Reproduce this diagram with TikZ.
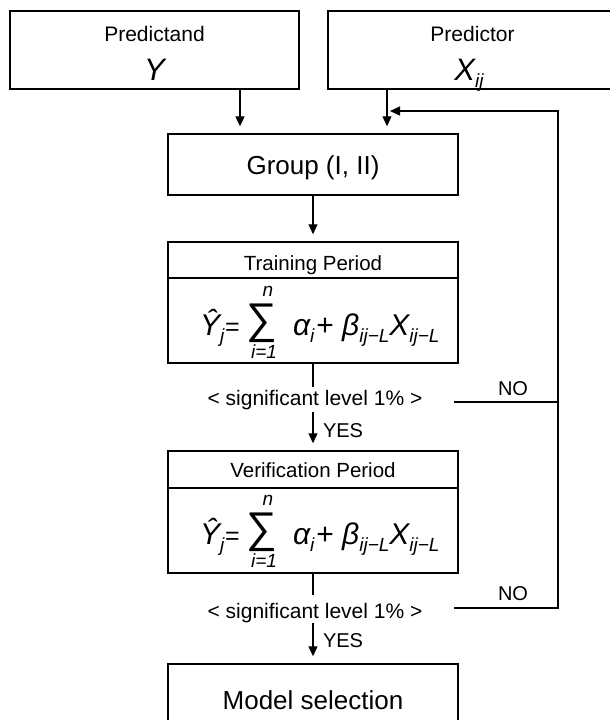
\documentclass[tikz,border=0pt]{standalone}
\usepackage{fontspec}
\setmainfont{Liberation Sans}
\usetikzlibrary{arrows.meta}
\newcommand{\fsz}[1]{\fontsize{#1}{#1}\selectfont}
\newcommand{\mysub}[1]{\raisebox{-0.24em}{\fsz{19}#1}}
\newcommand{\myformula}[2]{%
  \node[txt, anchor=base west, font=\fsz{30}\itshape] (#1lhs) at (200,#2) {Ŷ\mysub{j}\kern1pt\upshape\fsz{25}=};
  \node[txt, font=\fsz{43}] (#1sum) at (262,#2-12) {∑};
  \node[txt, anchor=base, font=\fsz{19}\itshape] (#1n) at (268,#2-39) {n};
  \node[txt, anchor=base, font=\fsz{19}\itshape] (#1i) at (264,#2+23) {i=1};
  \node[txt, anchor=base west, font=\fsz{30}\itshape] (#1rhs) at (293,#2) {α\mysub{i}\kern2pt\upshape+ \itshape β\mysub{ij−L}X\mysub{ij−L}};
}
\tikzset{
  box/.style={draw, line width=1.5pt, minimum width=290pt, inner sep=0pt},
  txt/.style={inner sep=0pt, outer sep=0pt},
  conn/.style={line width=1.3pt},
  arr/.style={line width=1.3pt, -{Triangle[length=10pt,width=9pt]}},
}
\begin{document}
\begin{tikzpicture}[x=1pt, y=-1pt]
\useasboundingbox (0,0) rectangle (610,720);
\clip (0,0) rectangle (610,720);
% top boxes
\node[box, minimum width=289pt, minimum height=78pt] (pd) at (154.5,50) {};
\node[txt, anchor=base, font=\fsz{21}] (pdt) at (154.5,41) {Predictand};
\node[txt, anchor=base, font=\fsz{31}\itshape] (pdy) at (154.5,80) {Y};
\node[box, minimum width=289pt, minimum height=78pt] (pr) at (472.5,50) {};
\node[txt, anchor=base, font=\fsz{21}] (prt) at (472.5,41) {Predictor};
\node[txt, anchor=base, font=\fsz{31}\itshape] (prx) at (469,80) {X\mysub{ij}};
% group
\node[box, minimum height=61pt] (grp) at (313,164.5) {};
\node[txt, anchor=base, font=\fsz{26}] (grpt) at (313,174) {Group (I, II)};
% training
\node[box, minimum height=121pt] (trn) at (313,302.5) {};
\draw[line width=1.5pt] (trn.west |- 0,278) coordinate (trnd1) -- (trn.east |- 0,278) coordinate (trnd2);
\node[txt, anchor=base, font=\fsz{20.5}] (trnt) at (313,270) {Training Period};
\myformula{a}{335}
% verification
\node[box, minimum height=122pt] (ver) at (313,512) {};
\draw[line width=1.5pt] (ver.west |- 0,488) coordinate (verd1) -- (ver.east |- 0,488) coordinate (verd2);
\node[txt, anchor=base, font=\fsz{20.5}] (vert) at (313,477) {Verification Period};
\myformula{b}{544}
% model selection
\node[box, minimum height=61pt] (mod) at (313,694.5) {};
\node[txt, anchor=base, font=\fsz{26}] (modt) at (313,709) {Model selection};
% significance labels
\node[txt, anchor=base, font=\fsz{21}] (sig1) at (315,405) {< significant level 1\% >};
\node[txt, anchor=base, font=\fsz{21}] (sig2) at (315,618) {< significant level 1\% >};
\node[txt, anchor=base west, font=\fsz{20}] (yes1) at (323,437) {YES};
\node[txt, anchor=base west, font=\fsz{20}] (yes2) at (323,647) {YES};
\node[txt, anchor=base west, font=\fsz{20}] (no1) at (498,395) {NO};
\node[txt, anchor=base west, font=\fsz{20}] (no2) at (498,600) {NO};
% coordinates
\coordinate (s1a) at (313,387);
\coordinate (s1b) at (313,412);
\coordinate (s2a) at (313,595);
\coordinate (s2b) at (313,623);
\coordinate (n1a) at (454,402);
\coordinate (n1b) at (558,402);
\coordinate (n2a) at (454,608);
\coordinate (n2b) at (558,608);
\coordinate (fbin) at (387,111);
% connectors
\draw[arr, shorten >=7pt] (pd.south -| 240,0) -- (grp.north -| 240,0);
\draw[arr, shorten >=7pt] (pr.south -| 387,0) -- (grp.north -| 387,0);
\draw[arr, shorten >=7pt] (grp.south) -- (trn.north);
\draw[conn] (trn.south) -- (s1a);
\draw[arr, shorten >=7pt] (s1b) -- (ver.north);
\draw[conn] (ver.south) -- (s2a);
\draw[arr, shorten >=7pt] (s2b) -- (mod.north);
\draw[conn] (n1a) -- (n1b);
\draw[arr, shorten >=3pt] (n2a) -- (n2b) -- (n2b |- fbin) -- (fbin);
\end{tikzpicture}
\end{document}
